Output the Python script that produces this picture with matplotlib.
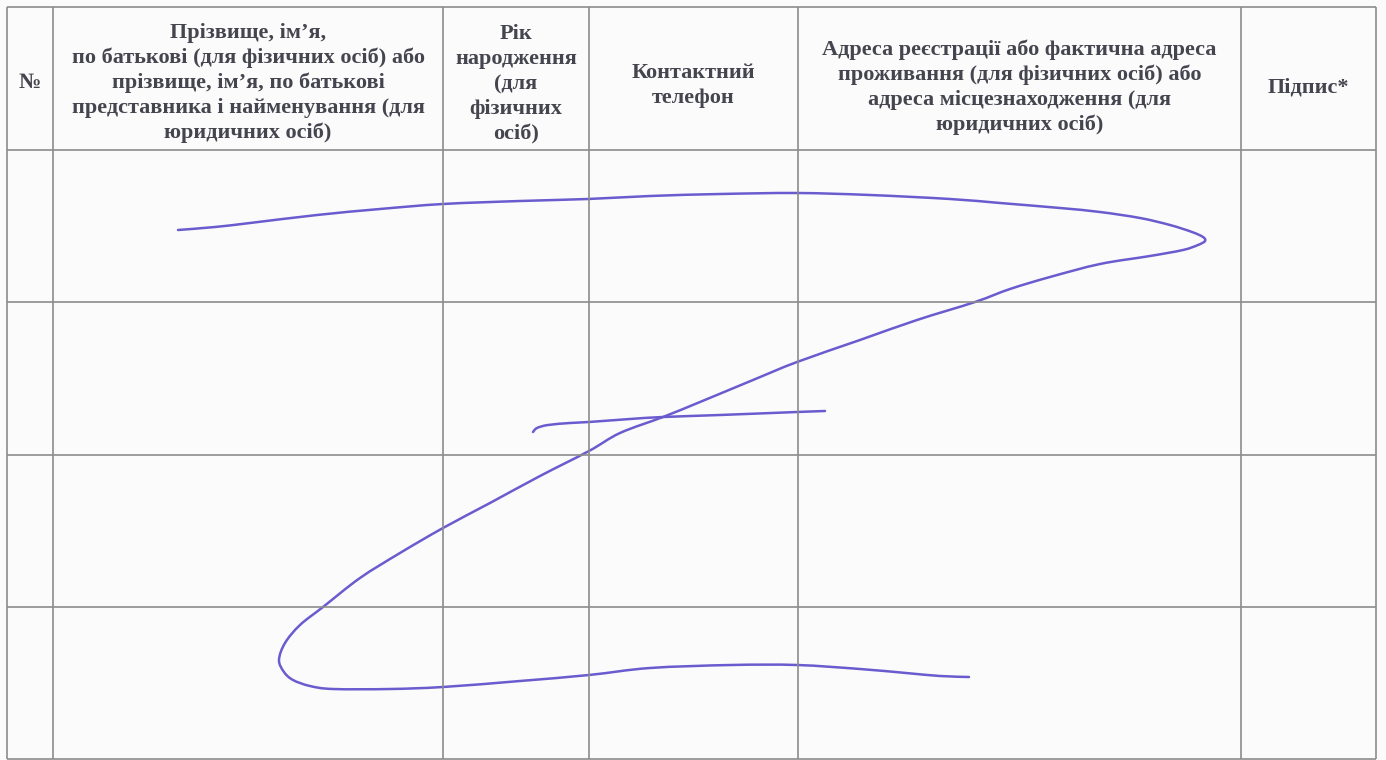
import numpy as np
import matplotlib
matplotlib.use("Agg")
import matplotlib.pyplot as plt
from matplotlib.path import Path
from matplotlib.patches import PathPatch

# ---- header texts (one list of lines per column) ----
header_no = ["№"]
header_name = ["Прізвище, ім’я,", "по батькові (для фізичних осіб) або",
               "прізвище, ім’я, по батькові", "представника і найменування (для",
               "юридичних осіб)"]
header_year = ["Рік", "народження", "(для", "фізичних", "осіб)"]
header_phone = ["Контактний", "телефон"]
header_addr = ["Адреса реєстрації або фактична адреса",
               "проживання (для фізичних осіб) або",
               "адреса місцезнаходження (для", "юридичних осіб)"]
header_sign = ["Підпис*"]
headers = [header_no, header_name, header_year, header_phone, header_addr, header_sign]

# ---- signature scribble (pixel coordinates) ----
stroke1_x = [178, 215, 250, 317, 380, 443, 520, 588, 650, 720, 797, 870, 950, 1000,
             1060, 1100, 1140, 1170, 1192, 1203, 1205, 1198, 1183, 1150, 1100, 1050,
             1010, 975, 917, 860, 797, 753, 700, 663, 620, 589, 540, 490, 443, 400,
             360, 323, 300, 285, 279, 284, 293, 310, 333, 390, 443, 520, 589, 650,
             731, 797, 860, 906, 940, 969]
stroke1_y = [230, 227, 223, 215, 209, 204, 201, 199, 196, 194, 193, 195, 199, 203,
             208, 212, 218, 225, 232, 237, 241, 245, 250, 256, 264, 277,
             289, 302, 320, 340, 362, 380, 402, 417, 433, 451, 476, 503, 528, 553,
             578, 607, 625, 643, 660, 672, 680, 686, 689, 689, 687, 681, 675, 668,
             665, 665, 669, 673, 676, 677]
stroke2_x = [533, 537, 548, 570, 589, 630, 663, 720, 797, 825]
stroke2_y = [432, 428, 425, 423, 422, 419, 417, 415, 412, 411]

# ---- layout ----
W, H = 1386, 760
col_edges = [7, 53, 443, 589, 798, 1241, 1376]
row_edges = [7, 150, 302, 455, 607, 759]
header_centers_y = [83, 83, 84, 86, 87.5, 87]
line_pitch = 25

fig = plt.figure(figsize=(W / 100, H / 100), dpi=100)
fig.patch.set_facecolor("#fbfbfb")
ax = fig.add_axes([0, 0, 1, 1])
ax.set_xlim(0, W)
ax.set_ylim(H, 0)
ax.axis("off")
ax.set_facecolor("#fbfbfb")

grid_color = "#8c8c8c"
for x in col_edges:
    ax.plot([x, x], [row_edges[0], row_edges[-1]], color=grid_color, lw=1.2,
            solid_capstyle="butt")
for y in row_edges:
    ax.plot([col_edges[0], col_edges[-1]], [y, y], color=grid_color, lw=1.2,
            solid_capstyle="butt")

text_color = "#45454f"
for i, lines in enumerate(headers):
    cx = (col_edges[i] + col_edges[i + 1]) / 2
    n = len(lines)
    for k, ln in enumerate(lines):
        y = header_centers_y[i] + (k - (n - 1) / 2) * line_pitch
        ax.text(cx, y, ln, ha="center", va="center", fontsize=16,
                fontweight="bold", color=text_color,
                family=["Liberation Serif", "DejaVu Serif"])


def smooth_path(xs, ys):
    p = np.column_stack([xs, ys]).astype(float)
    verts = [p[0]]
    codes = [Path.MOVETO]
    n = len(p)
    for i in range(n - 1):
        p0 = p[i - 1] if i > 0 else p[i]
        p1, p2 = p[i], p[i + 1]
        p3 = p[i + 2] if i + 2 < n else p[i + 1]
        c1 = p1 + (p2 - p0) / 6.0
        c2 = p2 - (p3 - p1) / 6.0
        verts += [c1, c2, p2]
        codes += [Path.CURVE4] * 3
    return Path(verts, codes)


ink = "#6a5ccf"
for xs, ys in [(stroke1_x, stroke1_y), (stroke2_x, stroke2_y)]:
    ax.add_patch(PathPatch(smooth_path(xs, ys), facecolor="none", edgecolor=ink,
                           lw=1.8, capstyle="round", joinstyle="round"))

fig.savefig("out.png", dpi=100, facecolor=fig.get_facecolor())
